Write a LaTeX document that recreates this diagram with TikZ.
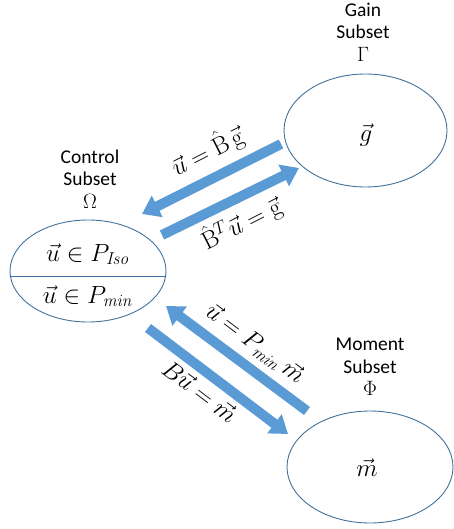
\documentclass[tikz,border=0pt]{standalone}
\usepackage{amsmath,amssymb}
\usepackage[no-math]{fontspec}
\setmainfont{Carlito}
\usetikzlibrary{shapes.geometric,arrows.meta,calc}
\definecolor{setline}{HTML}{41719C}
\definecolor{flowblue}{HTML}{5B9BD5}
\tikzset{
  setbox/.style={ellipse,draw=setline,line width=0.9pt,inner sep=0pt},
  caption/.style={align=center,font=\fontsize{19.5}{22.5}\selectfont,text=black,inner sep=0pt},
  mathlbl/.style={font=\fontsize{23}{26}\selectfont,inner sep=1pt},
  flow/.style={draw=flowblue,line width=10pt,
    -{Triangle[width=23pt,length=17pt]}}
}
\newcommand{\bigsym}[1]{\text{\fontsize{21}{21}\selectfont$#1$}}
\begin{document}
\begin{tikzpicture}[x=1pt,y=-1pt]
\useasboundingbox (0,0) rectangle (454,529);

% the three subsets
\node[setbox,minimum width=163pt,minimum height=113pt] (gain) at (365.5,130.5) {};
\node[setbox,minimum width=156pt,minimum height=102pt] (ctrl) at (88,271) {};
\node[setbox,minimum width=166pt,minimum height=112pt] (mom) at (370,467) {};
\draw[setline,line width=0.9pt] ($(ctrl.center)+(-77.6,5)$) -- ($(ctrl.center)+(77.6,5)$);

\node[mathlbl] (gv) at (366,135) {$\vec{g}$};
\node[mathlbl] (uiso) at (88,254) {$\vec{u}\in P_{\mathit{Iso}}$};
\node[mathlbl] (umin) at (88,296) {$\vec{u}\in P_{\mathit{min}}$};
\node[mathlbl] (mv) at (367,468) {$\vec{m}$};

% captions above each subset
\node[caption] (gcap) at (363,32) {Gain\\Subset\\\bigsym{\Gamma}};
\node[caption] (ccap) at (90,179) {Control\\Subset\\\bigsym{\Omega}};
\node[caption] (mcap) at (370,367) {Moment\\Subset\\\bigsym{\Phi}};

% mapping arrows
\coordinate (a1s) at (281,144);
\coordinate (a1e) at (142,214);
\coordinate (a2s) at (162,235);
\coordinate (a2e) at (299,168);
\coordinate (a3s) at (307,411);
\coordinate (a3e) at (166,306);
\coordinate (a4s) at (148,328);
\coordinate (a4e) at (288,434);
\draw[flow] (a1s) -- (a1e);
\draw[flow] (a2s) -- (a2e);
\draw[flow] (a3s) -- (a3e);
\draw[flow] (a4s) -- (a4e);

\node[mathlbl,rotate=27] (l1) at (207,151) {$\vec{u}=\hat{\mathrm{B}}\,\vec{\mathrm{g}}$};
\node[mathlbl,rotate=27] (l2) at (241,223) {$\hat{\mathrm{B}}^{T}\vec{u}=\vec{\mathrm{g}}$};
\node[mathlbl,rotate=-37] (l3) at (255,344) {$\vec{u}=P_{\mathit{min}}\,\vec{m}$};
\node[mathlbl,rotate=-37] (l4) at (200,391) {$B\vec{u}=\vec{m}$};
\end{tikzpicture}
\end{document}
